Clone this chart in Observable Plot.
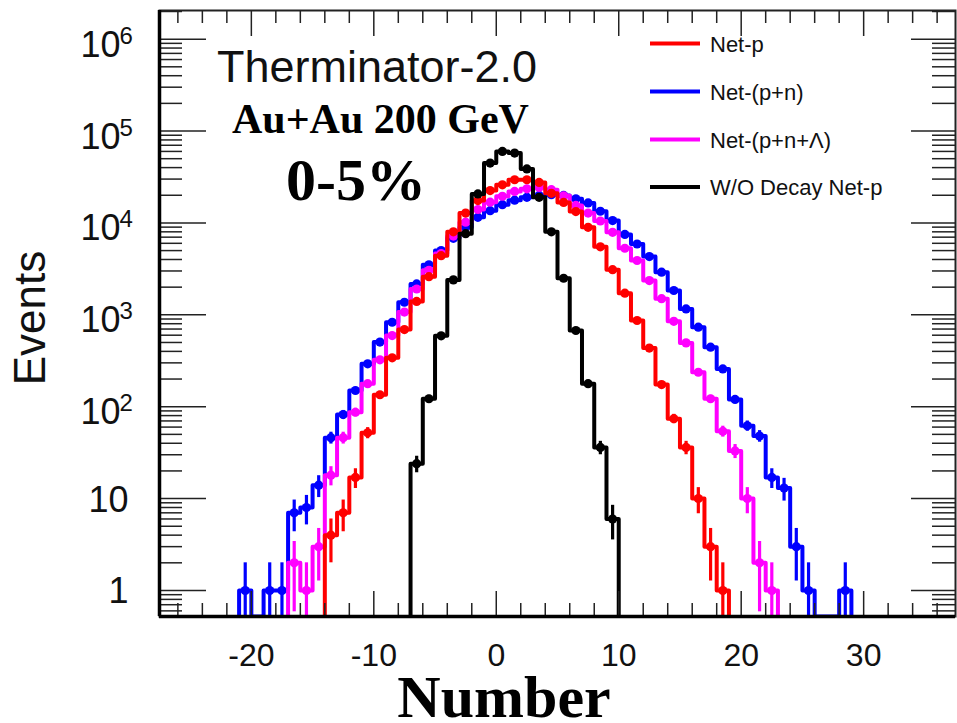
<!DOCTYPE html>
<html><head><meta charset="utf-8">
<script src="https://cdn.jsdelivr.net/npm/d3@7"></script>
<script src="https://cdn.jsdelivr.net/npm/@observablehq/plot@0.6"></script>
<style>
html,body{margin:0;padding:0;background:#fff;}
#chart{position:relative;width:957px;height:723px;overflow:hidden;}
</style>
</head><body><div id="chart"></div>
<script>
// ---- data (bin k covers [k, k+1)) ----
const bins = [-21,-20,-19,-18,-17,-16,-15,-14,-13,-12,-11,-10,-9,-8,-7,-6,-5,-4,-3,-2,-1,0,1,2,3,4,5,6,7,8,9,10,11,12,13,14,15,16,17,18,19,20,21,22,23,24,25,26,27,28,29];
const netP = [0,0,0,0,0,0,0,4,7,17,52,135,340,690,1400,2600,4400,8000,12800,17500,22500,26000,29500,29500,27600,21000,16700,13300,8950,5500,3100,1720,867,435,174,74,36,10,3,1,0,0,0,0,0,0,0,0,0,0,0];
const netPN = [1,0,1,1,7,8,14,46,82,150,293,505,830,1370,2170,3500,5000,6800,8950,11500,13600,15800,17700,19000,19900,20300,19900,18300,16500,13400,10600,7500,5900,4300,2910,1840,1160,733,444,258,120,62,48,17,13,3,1,0,0,1,0];
const netPNL = [0,0,0,0,2,1,3,18,46,87,178,324,595,1070,1910,3050,4650,7200,10200,14000,16800,19500,22000,23500,24300,23000,19700,15500,12800,10500,7900,5300,3900,2360,1500,850,495,237,122,54,33,10,2,1,0,0,0,0,0,0,0];
const noDecay = [0,0,0,0,0,0,0,0,0,0,0,0,0,0,24,122,590,2400,7630,20700,44800,60000,57600,38700,19000,8000,2500,675,178,36,6,0,0,0,0,0,0,0,0,0,0,0,0,0,0,0,0,0,0,0,0];

const seriesNames = ["Net-p", "Net-(p+n)", "Net-(p+n+\u039B)", "W/O Decay Net-p"];
const seriesColors = ["#ff0000", "#0000ff", "#ff00ff", "#000000"];
const seriesValues = [netP, netPN, netPNL, noDecay];
const drawOrder = [1, 2, 0, 3];

const xDomain = [-27.5, 37.5];
const yDomain = [0.521, 2.05e6];
const xMajor = [-20, -10, 0, 10, 20, 30];
const xTickLabels = ["-20", "-10", "0", "10", "20", "30"];
const xMinor = [-26,-24,-22,-18,-16,-14,-12,-8,-6,-4,-2,2,4,6,8,12,14,16,18,22,24,26,28,32,34,36];
const yMajor = [1, 10, 100, 1000, 10000, 100000, 1000000];
const yTickBase = ["1", "10", "10", "10", "10", "10", "10"];
const yTickExp = ["", "", "2", "3", "4", "5", "6"];
const yMinorMult = [2, 3, 4, 5, 6, 7, 8, 9];
const yMinor = [0.6, 0.7, 0.8, 0.9];
for (const d of yMajor) for (const m of yMinorMult) if (m * d < yDomain[1]) yMinor.push(m * d);

// ---- derived geometry from the histogram arrays ----
function stepPoints(vals) {
  const nz = vals.map((v, i) => v > 0 ? i : -1).filter(i => i >= 0);
  const first = nz[0], last = nz[nz.length - 1];
  const pts = [{x: bins[first], y: yDomain[0]}];
  for (let i = first; i <= last; i++) {
    const v = Math.max(vals[i], yDomain[0]);
    pts.push({x: bins[i], y: v}, {x: bins[i] + 1, y: v});
  }
  pts.push({x: bins[last] + 1, y: yDomain[0]});
  return pts;
}
function pointRows(vals) {
  return bins.map((b, i) => ({x: b + 0.5, v: vals[i]})).filter(d => d.v > 0);
}

const marks = [];
for (const s of drawOrder) {
  const col = seriesColors[s];
  marks.push(Plot.line(stepPoints(seriesValues[s]), {x: "x", y: "y", stroke: col, strokeWidth: 4, clip: true}));
  marks.push(Plot.ruleX(pointRows(seriesValues[s]), {x: "x", y1: d => Math.max(d.v - Math.sqrt(d.v), yDomain[0]), y2: d => d.v + Math.sqrt(d.v), stroke: col, strokeWidth: 3.2, clip: true}));
  marks.push(Plot.dot(pointRows(seriesValues[s]), {x: "x", y: "v", r: 4.6, fill: col, stroke: "none", clip: true}));
}

const W = 957 - 159 - 2, H = 723 - 10 - 107;
// ticks (inside the frame on all four sides)
marks.push(
  Plot.ruleX(xMajor, {x: d => d, insetTop: H - 25, stroke: "#222", strokeWidth: 1.5}),
  Plot.ruleX(xMinor, {x: d => d, insetTop: H - 13, stroke: "#222", strokeWidth: 1.5}),
  Plot.ruleX(xMajor, {x: d => d, insetBottom: H - 26, stroke: "#222", strokeWidth: 1.5}),
  Plot.ruleX(xMinor, {x: d => d, insetBottom: H - 13, stroke: "#222", strokeWidth: 1.5}),
  Plot.ruleY(yMajor, {y: d => d, insetRight: W - 47, stroke: "#222", strokeWidth: 1.5}),
  Plot.ruleY(yMinor, {y: d => d, insetRight: W - 23, stroke: "#222", strokeWidth: 1.5}),
  Plot.ruleY(yMajor, {y: d => d, insetLeft: W - 44, stroke: "#222", strokeWidth: 1.5}),
  Plot.ruleY(yMinor, {y: d => d, insetLeft: W - 23, stroke: "#222", strokeWidth: 1.5}),
  Plot.frame({stroke: "#222", strokeWidth: 2}),
  Plot.ruleX([xDomain[0]], {stroke: "#000", strokeWidth: 3.5}),
  Plot.ruleY([yDomain[0]], {stroke: "#000", strokeWidth: 3.5})
);
// tick labels
const yIdxBig = yMajor.map((d, i) => i).filter(i => yTickExp[i] !== "");
const yIdxSmall = yMajor.map((d, i) => i).filter(i => yTickExp[i] === "");
marks.push(
  Plot.text(xMajor, {x: d => d, text: (d, i) => xTickLabels[i], frameAnchor: "bottom", dy: 49, lineAnchor: "bottom", fontSize: 32, fill: "#111"}),
  Plot.text(yIdxSmall, {y: i => yMajor[i], text: i => yTickBase[i], frameAnchor: "left", dx: -31, dy: 13, textAnchor: "end", lineAnchor: "bottom", fontSize: 36, fill: "#111"}),
  Plot.text(yIdxBig, {y: i => yMajor[i], text: i => yTickBase[i], frameAnchor: "left", dx: -39, dy: 17.5, textAnchor: "end", lineAnchor: "bottom", fontSize: 36, fill: "#111"}),
  Plot.text(yIdxBig, {y: i => yMajor[i], text: i => yTickExp[i], frameAnchor: "left", dx: -40, dy: 4.5, textAnchor: "start", lineAnchor: "bottom", fontSize: 24, fill: "#111"})
);

const chart = Plot.plot({
  width: 957, height: 723,
  marginLeft: 159, marginRight: 2, marginTop: 10, marginBottom: 107,
  style: {fontFamily: "'Liberation Sans', Arial, sans-serif", background: "#fff", overflow: "visible"},
  x: {domain: xDomain, axis: null},
  y: {type: "log", domain: yDomain, axis: null},
  marks
});
document.getElementById("chart").appendChild(chart);

// ---- annotations, legend and axis titles ----
const svg = d3.select(chart);
const sans = "'Liberation Sans', Arial, sans-serif";
const serif = "'Liberation Serif', 'Times New Roman', serif";
svg.append("text").attr("x", 217).attr("y", 82).attr("text-anchor", "start").attr("font-family", sans).attr("font-size", 45).attr("fill", "#111").text("Therminator-2.0");
svg.append("text").attr("x", 232).attr("y", 133).attr("text-anchor", "start").attr("font-family", serif).attr("font-weight", "bold").attr("font-size", 42).attr("fill", "#000").text("Au+Au 200 GeV");
svg.append("text").attr("x", 286).attr("y", 200).attr("text-anchor", "start").attr("font-family", serif).attr("font-weight", "bold").attr("font-size", 60).attr("fill", "#000").text("0-5%");
const legendRows = [43.5, 91.5, 139.5, 187];
seriesNames.forEach((name, i) => {
  svg.append("line").attr("x1", 650).attr("x2", 700).attr("y1", legendRows[i]).attr("y2", legendRows[i]).attr("stroke", seriesColors[i]).attr("stroke-width", 4);
  svg.append("text").attr("x", 710).attr("y", legendRows[i] + 8).attr("text-anchor", "start").attr("font-family", sans).attr("font-size", 22).attr("fill", "#111").text(name);
});
svg.append("text").attr("transform", "translate(45,318) rotate(-90)").attr("text-anchor", "middle").attr("font-family", sans).attr("font-size", 44).attr("fill", "#111").text("Events");
svg.append("text").attr("x", 504).attr("y", 717).attr("text-anchor", "middle").attr("font-family", serif).attr("font-weight", "bold").attr("font-size", 60).attr("fill", "#000").text("Number");
</script>
</body></html>
